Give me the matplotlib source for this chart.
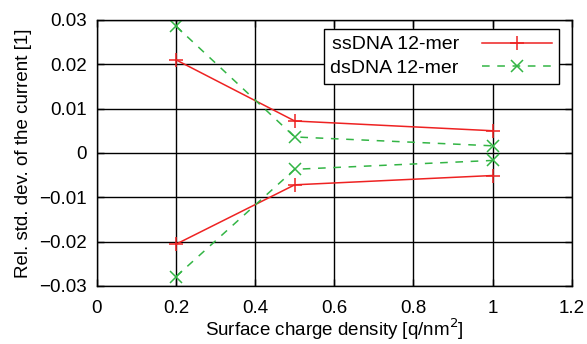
import matplotlib.pyplot as plt

# surface charge density [q/nm^2]
charge = [0.2, 0.5, 1.0]

# relative std. dev. of the current, upper and lower branches
ss_upper = [0.0210, 0.0072, 0.0050]
ss_lower = [-0.0206, -0.0072, -0.0051]
ds_upper = [0.0286, 0.0036, 0.0016]
ds_lower = [-0.0279, -0.0037, -0.0017]

xticks = [0, 0.2, 0.4, 0.6, 0.8, 1.0, 1.2]
xticklabels = ["0", "0.2", "0.4", "0.6", "0.8", "1", "1.2"]
yticks = [-0.03, -0.02, -0.01, 0, 0.01, 0.02, 0.03]
yticklabels = ["\u22120.03", "\u22120.02", "\u22120.01", "0", "0.01", "0.02", "0.03"]

plt.rcParams["font.family"] = ["Liberation Sans", "DejaVu Sans"]

red = "#ee2222"
green = "#33b545"

fig = plt.figure(figsize=(5.87, 3.44), dpi=100)
ax = fig.add_axes([0.165, 0.169, 0.809, 0.773])

ax.plot(charge, ss_upper, color=red, lw=1.1, marker="+", ms=10, mew=1.1,
        label="ssDNA 12-mer")
ax.plot(charge, ss_lower, color=red, lw=1.1, marker="+", ms=10, mew=1.1)
ax.plot(charge, ds_upper, color=green, lw=1.1, ls=(0, (5, 5)), marker="x",
        ms=8, mew=1.1, label="dsDNA 12-mer")
ax.plot(charge, ds_lower, color=green, lw=1.1, ls=(0, (5, 5)), marker="x",
        ms=8, mew=1.1)

ax.set_xlim(0, 1.2)
ax.set_ylim(-0.03, 0.03)
ax.set_xticks(xticks)
ax.set_xticklabels(xticklabels)
ax.set_yticks(yticks)
ax.set_yticklabels(yticklabels)
ax.grid(True, color="black", lw=1.0)
ax.set_axisbelow(True)
ax.tick_params(direction="in", length=5, width=1, top=True, right=True,
               labelsize=13.5)
ax.tick_params(axis="x", pad=10)
ax.tick_params(axis="y", pad=7)
for s in ax.spines.values():
    s.set_linewidth(1.0)

ax.set_xlabel("Surface charge density [q/nm$^2$]", fontsize=13.5, labelpad=0)
ax.set_ylabel("Rel. std. dev. of the current [1]", fontsize=13.5, labelpad=5)

leg = ax.legend(loc="upper right", bbox_to_anchor=(0.973, 0.966),
                borderaxespad=0, markerfirst=False, fontsize=14,
                fancybox=False, framealpha=1, edgecolor="black",
                handlelength=3.6, handletextpad=1.2, borderpad=0.35,
                labelspacing=0.3)
leg.get_frame().set_linewidth(1.0)
leg._legend_box.sep = 0

fig.savefig("out.png", dpi=100)
